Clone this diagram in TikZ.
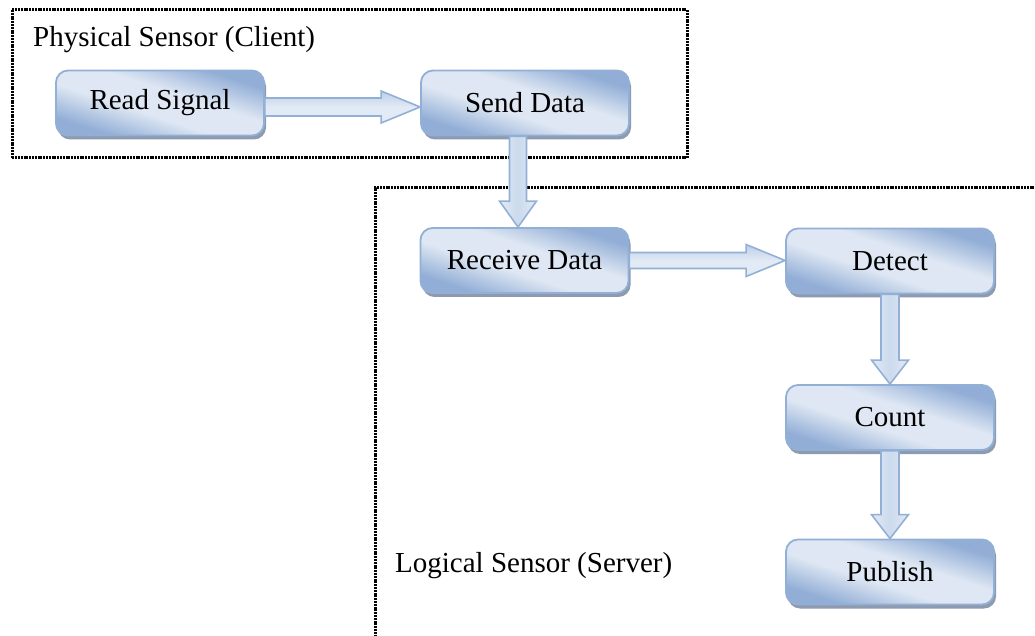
\documentclass[tikz,border=0pt]{standalone}
\usepackage{fontspec}
\setmainfont{Liberation Serif}
\usetikzlibrary{calc,shadows}

\definecolor{boxdark}{RGB}{146,174,214}
\definecolor{boxlight}{RGB}{222,231,243}
\definecolor{boxedge}{RGB}{146,176,214}
\definecolor{boxshadow}{RGB}{142,154,176}
\definecolor{arrowlight}{RGB}{226,234,245}
\definecolor{arrowdark}{RGB}{188,207,231}

% diagonal fill of the step boxes: dark corners, wide light band
\pgfdeclarehorizontalshading{stepfill}{100bp}{%
  color(0bp)=(boxdark); color(27bp)=(boxdark); color(43bp)=(boxlight);
  color(57bp)=(boxlight); color(73bp)=(boxdark); color(100bp)=(boxdark)}

\tikzset{
  stepbox/.style={
    rounded corners=12pt, minimum width=208pt, minimum height=65pt,
    draw=boxedge, line width=1.8pt,
    shading=stepfill, shading angle=72,
    drop shadow={shadow xshift=2pt, shadow yshift=-4pt, fill=boxshadow, opacity=1},
    font=\fontsize{29}{34}\selectfont, inner sep=0pt
  },
  hflow/.style={draw=boxedge, line width=1.6pt, line join=miter,
    top color=arrowdark, bottom color=arrowlight, middle color=arrowlight},
  vflow/.style={draw=boxedge, line width=1.6pt, line join=miter,
    left color=arrowlight, right color=arrowlight, middle color=arrowdark!60!arrowlight},
  frame/.style={line width=3pt, dash pattern=on 2pt off 0.8pt, black},
  caption/.style={font=\fontsize{29}{34}\selectfont, anchor=base west, inner sep=0pt}
}

\begin{document}
\begin{tikzpicture}[x=1pt,y=1pt]
  \useasboundingbox (0,0) rectangle (1035,635);
  \clip (0,0) rectangle (1035,635);

  % group frames
  \draw[frame] (12,625) rectangle (687,477);
  \draw[frame] (375,-10) -- (375,447) -- (1045,447);

  \node[caption] (client) at (33,588) {Physical Sensor (Client)};
  \node[caption] (server) at (395,63) {Logical Sensor (Server)};

  % steps
  \node[stepbox] (read)    at (160,532)   {Read Signal};
  \node[stepbox] (send)    at (525,532)   {Send Data};
  \node[stepbox] (receive) at (524.5,374.5) {Receive Data};
  \node[stepbox] (detect)  at (890,374)   {Detect};
  \node[stepbox] (count)   at (890,217.5) {Count};
  \node[stepbox] (publish) at (890,63)    {Publish};

  % block arrows: horizontal
  \draw[hflow] let \p1=($(read.east)+(0,-4)$), \p2=($(send.west)+(0,-4)$) in
    (\x1,\y1+9pt) -- (\x2-39pt,\y1+9pt) -- (\x2-39pt,\y1+16pt) -- (\x2,\y1)
    -- (\x2-39pt,\y1-16pt) -- (\x2-39pt,\y1-9pt) -- (\x1,\y1-9pt) -- cycle;
  \draw[hflow] let \p1=(receive.east), \p2=(detect.west) in
    (\x1,\y1+8pt) -- (\x2-39pt,\y1+8pt) -- (\x2-39pt,\y1+16pt) -- (\x2,\y1)
    -- (\x2-39pt,\y1-16pt) -- (\x2-39pt,\y1-8pt) -- (\x1,\y1-8pt) -- cycle;

  % block arrows: vertical
  \draw[vflow] let \p1=($(send.south)+(-7,0)$), \p2=($(receive.north)+(-6.5,0)$) in
    (\x1-8.5pt,\y1) -- (\x1-8.5pt,\y2+26pt) -- (\x1-18.5pt,\y2+26pt) -- (\x1,\y2)
    -- (\x1+18.5pt,\y2+26pt) -- (\x1+8.5pt,\y2+26pt) -- (\x1+8.5pt,\y1) -- cycle;
  \draw[vflow] let \p1=(detect.south), \p2=(count.north) in
    (\x1-9pt,\y1) -- (\x1-9pt,\y2+24pt) -- (\x1-18.5pt,\y2+24pt) -- (\x1,\y2)
    -- (\x1+18.5pt,\y2+24pt) -- (\x1+9pt,\y2+24pt) -- (\x1+9pt,\y1) -- cycle;
  \draw[vflow] let \p1=(count.south), \p2=(publish.north) in
    (\x1-9pt,\y1) -- (\x1-9pt,\y2+24pt) -- (\x1-18.5pt,\y2+24pt) -- (\x1,\y2)
    -- (\x1+18.5pt,\y2+24pt) -- (\x1+9pt,\y2+24pt) -- (\x1+9pt,\y1) -- cycle;
\end{tikzpicture}
\end{document}
